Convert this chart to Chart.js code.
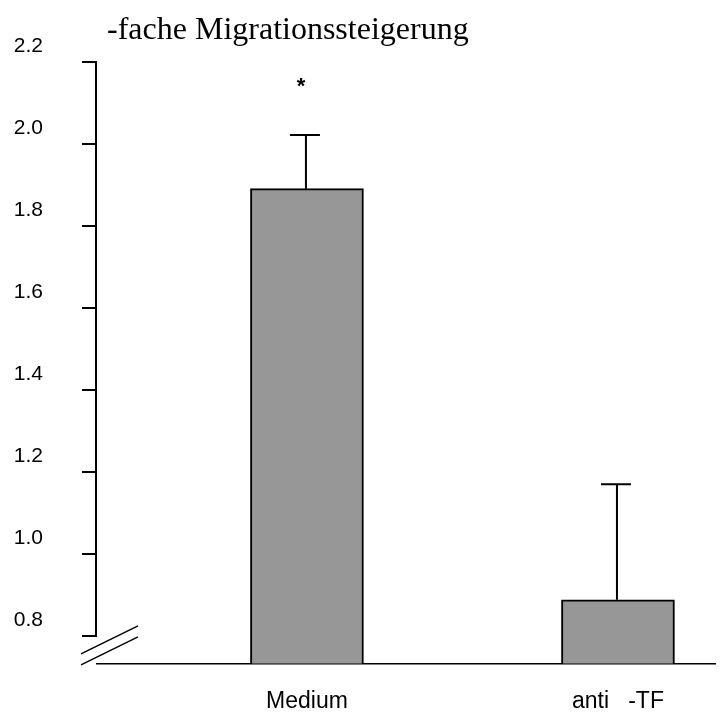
<!DOCTYPE html>
<html lang="de">

<head>
  <meta charset="UTF-8" />
  <title>Migrationssteigerung</title>
  <script src="https://cdn.jsdelivr.net/npm/chart.js"></script>
  <style>
    html, body { margin: 0; padding: 0; background: #fff; }
    #wrap { width: 720px; height: 715px; position: relative; }
  </style>
</head>

<body>
  <div id="wrap">
    <canvas id="grafico"></canvas>
  </div>

  <script>
    // dados
    const categorias = ['Medium', 'anti   -TF'];
    const medias = [1.891, 0.888];
    const erroSuperior = [2.022, 1.170];
    const marcas = ['*', ''];
    const ticksY = [0.8, 1.0, 1.2, 1.4, 1.6, 1.8, 2.0, 2.2];
    const titulo = '-fache Migrationssteigerung';

    const dados = [];
    for (let i = 0; i < categorias.length; i++) {
      dados.push({ x: i + 1, y: medias[i] });
    }

    // titulo, eixo y quebrado, barras de erro e asterisco
    const extras = {
      id: 'extras',
      afterDatasetsDraw(chart) {
        const ctx = chart.ctx;
        const x = chart.scales.x;
        const y = chart.scales.y;
        const area = chart.chartArea;
        ctx.save();
        ctx.strokeStyle = '#000';
        ctx.fillStyle = '#000';

        // barras de erro
        ctx.lineWidth = 2;
        for (let i = 0; i < medias.length; i++) {
          const px = x.getPixelForValue(i + 1) - 1;
          const yTopo = y.getPixelForValue(erroSuperior[i]);
          const yBarra = y.getPixelForValue(medias[i]);
          ctx.beginPath();
          ctx.moveTo(px, yBarra);
          ctx.lineTo(px, yTopo);
          ctx.moveTo(px - 16, yTopo);
          ctx.lineTo(px + 14, yTopo);
          ctx.stroke();

          if (marcas[i]) {
            ctx.font = 'bold 22px "Liberation Sans", Arial, sans-serif';
            ctx.textAlign = 'center';
            ctx.textBaseline = 'middle';
            ctx.fillText(marcas[i], px - 5, y.getPixelForValue(erroSuperior[i]) - 48);
          }
        }

        // linha do eixo y (2.2 ate 0.8)
        const yMax = y.getPixelForValue(ticksY[ticksY.length - 1]);
        const yMin = y.getPixelForValue(ticksY[0]);
        ctx.lineWidth = 2;
        ctx.beginPath();
        ctx.moveTo(area.left - 1, yMax);
        ctx.lineTo(area.left - 1, yMin);
        ctx.stroke();

        // quebra do eixo
        ctx.lineWidth = 1.5;
        ctx.beginPath();
        ctx.moveTo(area.left - 16, yMin + 18);
        ctx.lineTo(area.left + 41, yMin - 10);
        ctx.moveTo(area.left - 16, yMin + 29);
        ctx.lineTo(area.left + 41, yMin + 1);
        ctx.stroke();

        // titulo
        ctx.font = '32px "Liberation Serif", "Times New Roman", serif';
        ctx.textAlign = 'left';
        ctx.textBaseline = 'alphabetic';
        ctx.fillText(titulo, 107, 39);
        ctx.restore();
      }
    };

    new Chart(document.getElementById('grafico'), {
      type: 'bar',
      data: {
        datasets: [{
          data: dados,
          backgroundColor: '#979797',
          borderColor: '#000',
          borderWidth: 2,
          borderSkipped: false,
          barThickness: 113
        }]
      },
      options: {
        responsive: true,
        maintainAspectRatio: false,
        animation: false,
        layout: { padding: { top: 62, right: 5, left: 0, bottom: 0 } },
        plugins: {
          legend: { display: false },
          tooltip: { enabled: false }
        },
        scales: {
          x: {
            type: 'linear',
            offset: false,
            min: 0.325,
            max: 2.312,
            afterBuildTicks: (scale) => {
              scale.ticks = categorias.map((c, i) => ({ value: i + 1 }));
            },
            afterFit: (scale) => { scale.height = 49; },
            grid: { display: false, drawTicks: false, offset: false },
            border: { display: true, color: '#000', width: 1.5 },
            ticks: {
              color: '#000',
              padding: 24,
              maxRotation: 0,
              autoSkip: false,
              font: { family: '"Liberation Sans", Arial, sans-serif', size: 23 },
              callback: (v) => categorias[v - 1] || ''
            }
          },
          y: {
            min: 0.733,
            max: 2.2,
            afterBuildTicks: (scale) => {
              scale.ticks = ticksY.map(v => ({ value: v }));
            },
            afterFit: (scale) => { scale.width = 97; },
            grid: {
              drawOnChartArea: false,
              drawTicks: true,
              tickLength: 15,
              color: '#000',
              lineWidth: 2
            },
            border: { display: false },
            ticks: {
              color: '#000',
              padding: 39,
              labelOffset: -16,
              font: { family: '"Liberation Sans", Arial, sans-serif', size: 21 },
              callback: (v) => Number(v).toFixed(1)
            }
          }
        }
      },
      plugins: [extras]
    });
  </script>
</body>

</html>
